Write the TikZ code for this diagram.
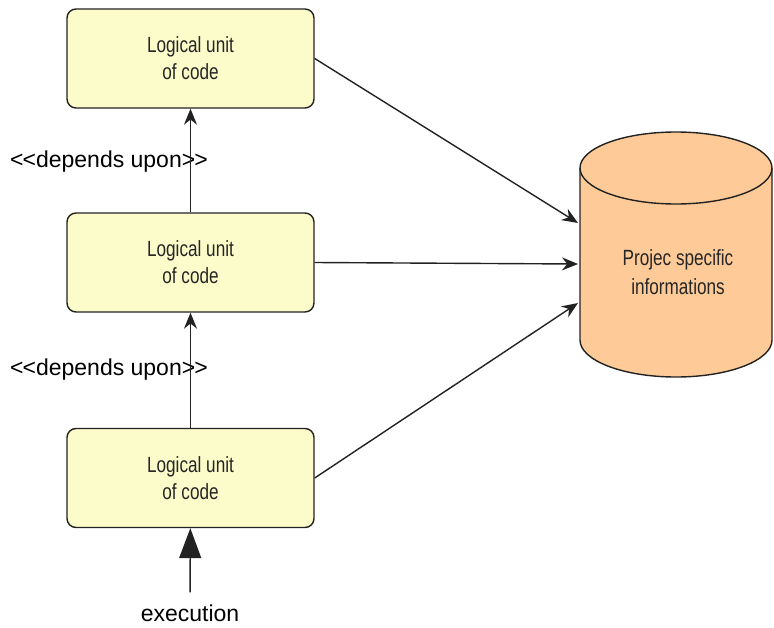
\documentclass[tikz,border=0pt]{standalone}
\usepackage{fontspec}
\setmainfont{Liberation Sans}
\newfontfamily\narrowfont[FakeStretch=0.78]{Liberation Sans}
\usetikzlibrary{arrows.meta}
\definecolor{unitfill}{HTML}{FCFCCB}
\definecolor{dbfill}{HTML}{FECB98}
\definecolor{edge}{HTML}{222222}

\begin{document}
\begin{tikzpicture}[x=1pt,y=-1pt,
    unit/.style={draw=edge,fill=unitfill,line width=1.4pt,rounded corners=9pt,
        minimum width=247pt,minimum height=99pt,align=center,text=black!85,
        font=\narrowfont\fontsize{22}{27}\selectfont},
    dbtext/.style={align=center,text=black!85,font=\narrowfont\fontsize{22}{29}\selectfont},
    lbl/.style={font=\fontsize{23}{26}\selectfont,inner sep=0pt},
    flow/.style={-{Stealth[length=16pt,width=13pt]},line width=1.4pt,draw=edge},
    exec/.style={-{Triangle[length=30pt,width=22pt]},line width=1.4pt,draw=edge}]
    \useasboundingbox (0,0) rectangle (774,627);
    % database cylinder
    \filldraw[fill=dbfill,draw=edge,line width=1.4pt] (580,168) -- (580,340)
        arc[start angle=180,end angle=360,x radius=96pt,y radius=37pt] -- (772,168)
        arc[start angle=0,end angle=180,x radius=96pt,y radius=36pt] -- cycle;
    \draw[edge,line width=1.4pt] (580,168) arc[start angle=180,end angle=360,x radius=96pt,y radius=36pt];
    \node[dbtext] (db) at (678,272) {Projec specific\\informations};
    \coordinate (in1) at (578,223);
    \coordinate (in2) at (578,264);
    \coordinate (in3) at (578,303);
    % logical units
    \node[unit] (lu1) at (190.5,58.5) {Logical unit\\of code};
    \node[unit] (lu2) at (190.5,262.5) {Logical unit\\of code};
    \node[unit] (lu3) at (190.5,478) {Logical unit\\of code};
    % dependencies
    \node[lbl,anchor=west] (dep1) at (10,162) {<\kern-1pt<depends upon>\kern-1pt>};
    \node[lbl,anchor=west] (dep2) at (10,370) {<\kern-1pt<depends upon>\kern-1pt>};
    \draw[flow] (lu2) -- (lu1);
    \draw[flow] (lu3) -- (lu2);
    % execution
    \node[lbl] (exe) at (190,613) {execution};
    \draw[exec,shorten <=12pt] (exe) -- (lu3);
    % project information
    \draw[flow] (lu1.east) -- (in1);
    \draw[flow] (lu2.east) -- (in2);
    \draw[flow] (lu3.east) -- (in3);
\end{tikzpicture}
\end{document}
